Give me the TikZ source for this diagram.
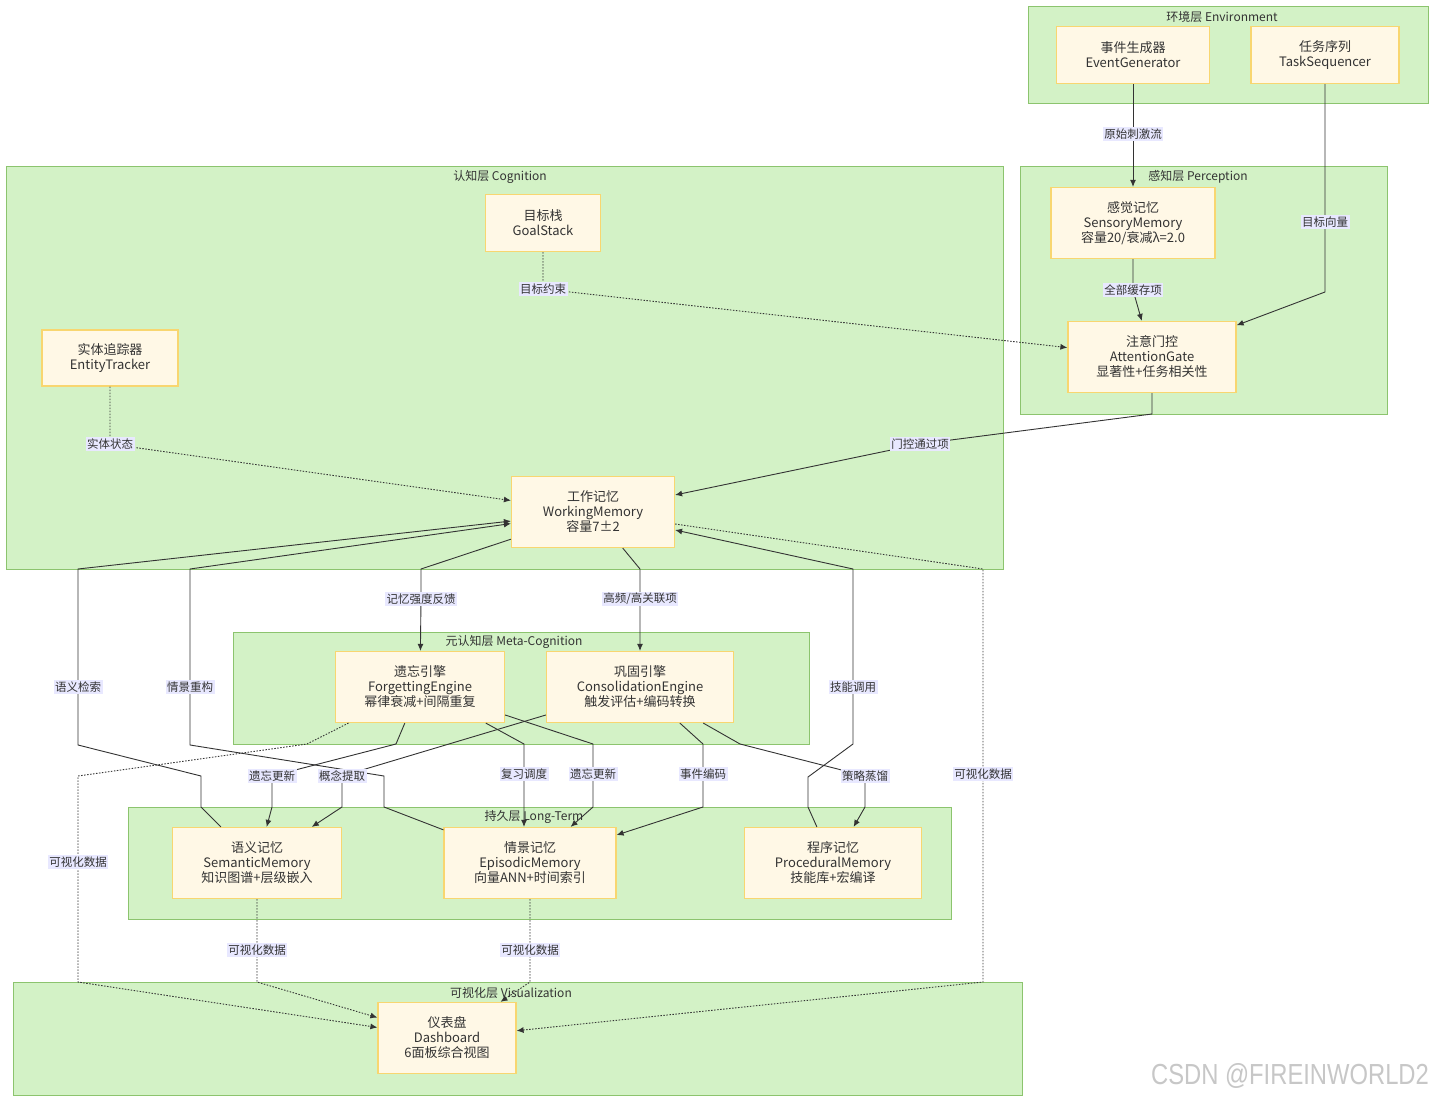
\documentclass[tikz,border=0pt]{standalone}
\usepackage{fontspec}
\setmainfont{Noto Sans CJK SC}
\newfontfamily\markfont{Liberation Sans}
\usetikzlibrary{arrows.meta}

\definecolor{layerfill}{RGB}{211,242,198}
\definecolor{layerline}{RGB}{140,196,110}
\definecolor{boxfill}{RGB}{255,248,230}
\definecolor{boxline}{RGB}{248,214,112}
\definecolor{tagfill}{RGB}{232,232,255}
\definecolor{inkgray}{RGB}{51,51,51}

\begin{document}
\begin{tikzpicture}[x=1pt,y=-1pt,
    layer/.style={draw=layerline,fill=layerfill,line width=1pt},
    layertitle/.style={text=inkgray,font=\fontsize{12}{14}\selectfont,inner sep=0pt},
    box/.style={draw=boxline,fill=boxfill,line width=1.2pt,align=center,text=inkgray,
      font=\fontsize{13}{15}\selectfont,inner sep=0pt},
    elabel/.style={fill=tagfill,text=inkgray,font=\fontsize{11.5}{13}\selectfont,inner sep=1.5pt},
    flow/.style={draw=inkgray,line width=0.9pt,-{Latex[length=7pt,width=6pt]}},
    dotflow/.style={flow,dash pattern=on 1.5pt off 1.5pt}]
    \useasboundingbox[fill=white] (0,0) rectangle (1436,1102);

    % Layers
    \draw[layer] (1028,7) rectangle (1428,104);
    \node[layertitle] (tenv) at (1222,17) {环境层 Environment};
    \draw[layer] (1020,167) rectangle (1387,414);
    \node[layertitle] (tper) at (1198,177) {感知层 Perception};
    \draw[layer] (6,167) rectangle (1003,569);
    \node[layertitle] (tcog) at (500,177) {认知层 Cognition};
    \draw[layer] (233,632) rectangle (809,744);
    \node[layertitle] (tmeta) at (514,642) {元认知层 Meta-Cognition};
    \draw[layer] (128,807) rectangle (951,919);
    \node[layertitle] (tlong) at (534,817) {持久层 Long-Term};
    \draw[layer] (13,982) rectangle (1022,1095);
    \node[layertitle] (tvis) at (511,993) {可视化层 Visualization};

    % Modules
    \node[box,minimum width=153pt,minimum height=57pt] (eg) at (1133,55) {事件生成器\\EventGenerator};
    \node[box,minimum width=148pt,minimum height=57pt] (ts) at (1325,55) {任务序列\\TaskSequencer};
    \node[box,minimum width=164pt,minimum height=71pt] (sm) at (1133,223) {感觉记忆\\SensoryMemory\\容量20/衰减λ=2.0};
    \node[box,minimum width=168pt,minimum height=71pt] (ag) at (1152,357) {注意门控\\AttentionGate\\显著性+任务相关性};
    \node[box,minimum width=115pt,minimum height=57pt] (gs) at (543,223) {目标栈\\GoalStack};
    \node[box,minimum width=136pt,minimum height=56pt] (et) at (110,358) {实体追踪器\\EntityTracker};
    \node[box,minimum width=163pt,minimum height=71pt] (wm) at (593,512) {工作记忆\\WorkingMemory\\容量7±2};
    \node[box,minimum width=169pt,minimum height=71pt] (fe) at (420,687) {遗忘引擎\\ForgettingEngine\\幂律衰减+间隔重复};
    \node[box,minimum width=187pt,minimum height=71pt] (ce) at (640,687) {巩固引擎\\ConsolidationEngine\\触发评估+编码转换};
    \node[box,minimum width=169pt,minimum height=71pt] (sem) at (257,863) {语义记忆\\SemanticMemory\\知识图谱+层级嵌入};
    \node[box,minimum width=172pt,minimum height=71pt] (epi) at (530,863) {情景记忆\\EpisodicMemory\\向量ANN+时间索引};
    \node[box,minimum width=177pt,minimum height=71pt] (proc) at (833,863) {程序记忆\\ProceduralMemory\\技能库+宏编译};
    \node[box,minimum width=138pt,minimum height=71pt] (dash) at (447,1038) {仪表盘\\Dashboard\\6面板综合视图};

    % Environment -> Perception
    \draw[flow] (eg) -- (1133,134) node[elabel] (l1) {原始刺激流} -- (sm);
    \draw[flow] (ts) -- (1325,222) node[elabel] (l2) {目标向量} -- (1325,292) -- (ag);
    \draw[flow] (sm) -- (1133,290) node[elabel] (l3) {全部缓存项} -- (ag);

    % Cognition
    \draw[dotflow] (gs) -- (543,289) node[elabel] (l4) {目标约束} -- (ag);
    \draw[dotflow] (et) -- (110,444) node[elabel] (l5) {实体状态} -- (wm);
    \draw[flow] (ag) -- (1152,414) -- (920,444) node[elabel] (l6) {门控通过项} -- (wm);

    % Working memory -> meta-cognition
    \draw[flow] (wm) -- (421,569) -- (421,599) node[elabel] (l7) {记忆强度反馈} -- (fe);
    \draw[flow] (wm) -- (640,569) -- (640,599) node[elabel] (l8) {高频/高关联项} -- (ce);

    % Long-term -> working memory
    \draw[flow] (sem) -- (201,807) -- (201,776) -- (78,745) -- (78,687) node[elabel] (l9) {语义检索} -- (78,569) -- (wm);
    \draw[flow] (epi) -- (384,807) -- (384,776) -- (190,745) -- (190,687) node[elabel] (l10) {情景重构} -- (190,569) -- (wm);
    \draw[flow] (proc) -- (808,807) -- (808,777) -- (853,744) -- (853,687) node[elabel] (l11) {技能调用} -- (853,569) -- (wm);

    % Meta-cognition -> long-term
    \draw[flow] (fe) -- (396,744) -- (272,776) node[elabel] (l12) {遗忘更新} -- (272,807) -- (sem);
    \draw[flow] (ce) -- (342,776) node[elabel] (l13) {概念提取} -- (342,807) -- (sem);
    \draw[flow] (fe) -- (524,744) -- (524,774) node[elabel] (l14) {复习调度} -- ([xshift=-6pt]epi.north);
    \draw[flow] (fe) -- (593,744) -- (593,774) node[elabel] (l15) {遗忘更新} -- (593,807) -- (epi);
    \draw[flow] (ce) -- (703,744) -- (703,774) node[elabel] (l16) {事件编码} -- (703,807) -- (epi);
    \draw[flow] (ce) -- (740,744) -- (865,776) node[elabel] (l17) {策略蒸馏} -- (865,807) -- (proc);

    % Visualization
    \draw[dotflow] (fe) -- (307,744) -- (78,776) -- (78,862) node[elabel] (l18) {可视化数据} -- (78,982) -- (dash);
    \draw[dotflow] (sem) -- (257,950) node[elabel] (l19) {可视化数据} -- (257,982) -- (dash);
    \draw[dotflow] (epi) -- (530,950) node[elabel] (l20) {可视化数据} -- (530,982) -- (dash);
    \draw[dotflow] (wm) -- (983,569) -- (983,774) node[elabel] (l21) {可视化数据} -- (983,982) -- (dash);

    % Watermark
    \node[text=black!22,font=\markfont\fontsize{29}{30}\selectfont,inner sep=0pt] (mark) at (1290,1076) {\scalebox{0.82}[1]{CSDN @FIREINWORLD2}};

\end{tikzpicture}
\end{document}
